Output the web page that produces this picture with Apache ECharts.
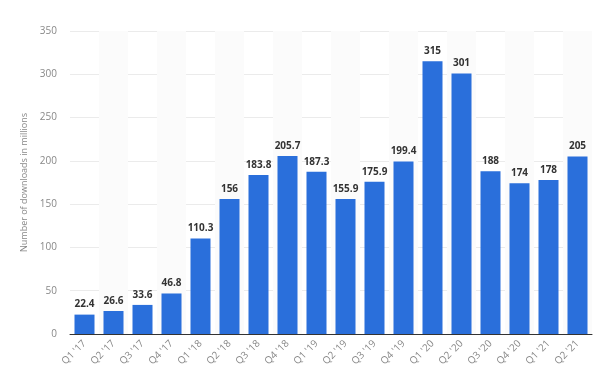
<!DOCTYPE html>
<html><head><meta charset="utf-8">
<script src="https://cdn.jsdelivr.net/npm/echarts@6/dist/echarts.min.js"></script>
<style>html,body{margin:0;padding:0;background:#fff}#c{width:600px;height:386px}</style>
</head><body><div id="c"></div>
<script>
const categories = ["Q1 '17","Q2 '17","Q3 '17","Q4 '17","Q1 '18","Q2 '18","Q3 '18","Q4 '18","Q1 '19","Q2 '19","Q3 '19","Q4 '19","Q1 '20","Q2 '20","Q3 '20","Q4 '20","Q1 '21","Q2 '21"];
const downloads = [22.4,26.6,33.6,46.8,110.3,156,183.8,205.7,187.3,155.9,175.9,199.4,315,301,188,174,178,205];
const yTicks = {min:0, max:350, interval:50};
const chart = echarts.init(document.getElementById('c'), null, {renderer:'canvas'});
chart.setOption({
  animation:false,
  grid:{left:70, right:8, top:31, bottom:52, containLabel:false},
  xAxis:{type:'category', data:categories,
    axisLine:{lineStyle:{color:'#333', width:1}},
    axisTick:{show:false},
    axisLabel:{rotate:45, color:'#888', fontSize:10, fontFamily:'Open Sans', margin:8, interval:0},
    splitArea:{show:true, areaStyle:{color:['rgba(255,255,255,0)','#fbfbfb']}}
  },
  yAxis:{type:'value', min:yTicks.min, max:yTicks.max, interval:yTicks.interval,
    name:'Number of downloads in millions', nameLocation:'middle', nameGap:32,
    nameTextStyle:{color:'#888', fontSize:9, fontFamily:'Open Sans'},
    axisLine:{show:false}, axisTick:{show:false},
    axisLabel:{color:'#888', fontSize:10, fontFamily:'Open Sans', margin:13},
    splitLine:{lineStyle:{color:'#ebebeb'}}
  },
  series:[{type:'bar', data:downloads, barCategoryGap:'31%',
    itemStyle:{color:'#2a6fdb'},
    label:{show:true, position:'top', color:'#333', fontWeight:'bold', fontSize:10, fontFamily:'Open Sans', distance:5}
  }]
});
</script></body></html>
